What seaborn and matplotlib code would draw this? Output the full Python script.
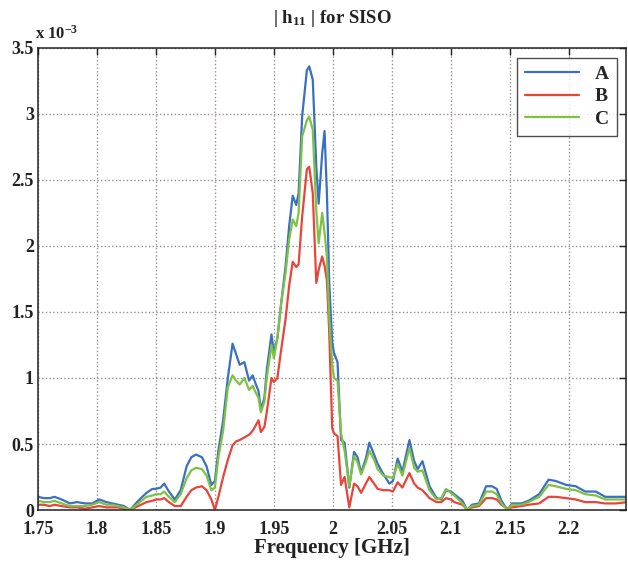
"""
|h11| magnitude vs frequency for SISO (three configurations)
"""
import matplotlib
matplotlib.use('Agg')
import matplotlib.pyplot as plt
import pandas as pd
import seaborn as sns

sns.set_style('white')
plt.rcParams['font.family'] = ['Liberation Serif', 'DejaVu Serif']
plt.rcParams['font.weight'] = 'bold'
plt.rcParams['mathtext.fontset'] = 'custom'
plt.rcParams['mathtext.rm'] = 'Liberation Serif:bold'
plt.rcParams['mathtext.it'] = 'Liberation Serif:bold'
plt.rcParams['mathtext.bf'] = 'Liberation Serif:bold'
plt.rcParams['mathtext.default'] = 'bf'

# frequency points (GHz) and |h11| values (x 1e-3)
freq = [1.750, 1.755, 1.760, 1.764, 1.770, 1.777, 1.783, 1.790, 1.796, 1.802,
        1.808, 1.813, 1.818, 1.823, 1.828, 1.835, 1.842, 1.847, 1.850, 1.854,
        1.857, 1.861, 1.866, 1.871, 1.876, 1.880, 1.884, 1.889, 1.893, 1.897,
        1.900, 1.903, 1.907, 1.911, 1.915, 1.918, 1.921, 1.925, 1.929, 1.932,
        1.934, 1.937, 1.939, 1.942, 1.944, 1.948, 1.950, 1.953, 1.956, 1.960,
        1.963, 1.966, 1.969, 1.971, 1.974, 1.978, 1.980, 1.983, 1.986, 1.988,
        1.991, 1.993, 1.995, 1.997, 1.9995, 2.001, 2.004, 2.007, 2.010, 2.014,
        2.018, 2.021, 2.024, 2.028, 2.031, 2.035, 2.038, 2.043, 2.048, 2.051,
        2.055, 2.059, 2.065, 2.069, 2.072, 2.076, 2.082, 2.088, 2.092, 2.096,
        2.100, 2.103, 2.110, 2.114, 2.118, 2.124, 2.130, 2.135, 2.139, 2.143,
        2.148, 2.152, 2.160, 2.166, 2.175, 2.183, 2.189, 2.198, 2.206, 2.214,
        2.223, 2.231, 2.240, 2.250]

mag_a = [0.10, 0.09, 0.09, 0.10, 0.08, 0.05, 0.06, 0.05, 0.05, 0.08,
         0.06, 0.05, 0.04, 0.03, 0.00, 0.07, 0.13, 0.16, 0.16, 0.17,
         0.20, 0.14, 0.08, 0.15, 0.33, 0.40, 0.42, 0.40, 0.33, 0.19,
         0.22, 0.45, 0.68, 1.00, 1.26, 1.18, 1.10, 1.12, 0.98, 1.02,
         0.97, 0.90, 0.76, 0.85, 1.06, 1.33, 1.19, 1.30, 1.55, 1.85,
         2.15, 2.38, 2.31, 2.40, 2.98, 3.33, 3.36, 3.26, 2.60, 2.32,
         2.70, 2.87, 2.40, 1.72, 1.27, 1.19, 1.12, 0.53, 0.51, 0.17,
         0.44, 0.40, 0.28, 0.39, 0.51, 0.42, 0.35, 0.27, 0.20, 0.22,
         0.39, 0.29, 0.53, 0.37, 0.31, 0.37, 0.18, 0.09, 0.08, 0.15,
         0.14, 0.12, 0.07, 0.00, 0.04, 0.05, 0.18, 0.18, 0.16, 0.07,
         0.00, 0.05, 0.05, 0.07, 0.12, 0.23, 0.22, 0.19, 0.18, 0.14,
         0.14, 0.10, 0.10, 0.10]

mag_b = [0.04, 0.04, 0.03, 0.04, 0.03, 0.02, 0.02, 0.01, 0.02, 0.03,
         0.02, 0.02, 0.02, 0.01, 0.00, 0.03, 0.06, 0.07, 0.08, 0.08,
         0.09, 0.06, 0.03, 0.03, 0.10, 0.15, 0.17, 0.18, 0.15, 0.08,
         0.00, 0.10, 0.25, 0.38, 0.49, 0.52, 0.53, 0.55, 0.57, 0.60,
         0.63, 0.68, 0.59, 0.63, 0.74, 1.00, 0.97, 1.00, 1.20, 1.45,
         1.70, 1.88, 1.84, 1.86, 2.22, 2.58, 2.60, 2.40, 1.72, 1.82,
         1.92, 1.85, 1.74, 1.34, 0.62, 0.58, 0.56, 0.19, 0.25, 0.02,
         0.20, 0.18, 0.13, 0.20, 0.25, 0.20, 0.16, 0.15, 0.15, 0.14,
         0.21, 0.17, 0.28, 0.20, 0.17, 0.15, 0.09, 0.06, 0.06, 0.09,
         0.08, 0.06, 0.04, 0.00, 0.02, 0.03, 0.09, 0.09, 0.08, 0.04,
         0.01, 0.02, 0.03, 0.04, 0.05, 0.10, 0.10, 0.09, 0.08, 0.06,
         0.06, 0.05, 0.05, 0.06]

mag_c = [0.07, 0.06, 0.06, 0.07, 0.05, 0.03, 0.03, 0.03, 0.04, 0.06,
         0.04, 0.04, 0.03, 0.02, 0.00, 0.05, 0.10, 0.11, 0.12, 0.12,
         0.14, 0.10, 0.06, 0.12, 0.24, 0.30, 0.32, 0.31, 0.26, 0.15,
         0.17, 0.40, 0.60, 0.93, 1.02, 0.98, 0.95, 1.00, 0.91, 0.94,
         0.90, 0.85, 0.74, 0.82, 1.00, 1.25, 1.15, 1.30, 1.55, 1.80,
         2.05, 2.20, 2.15, 2.25, 2.83, 2.95, 2.98, 2.88, 2.27, 2.02,
         2.25, 2.10, 1.92, 1.46, 1.10, 1.00, 0.98, 0.58, 0.45, 0.18,
         0.41, 0.36, 0.27, 0.36, 0.45, 0.38, 0.31, 0.26, 0.25, 0.24,
         0.35, 0.26, 0.47, 0.32, 0.29, 0.30, 0.15, 0.08, 0.09, 0.16,
         0.13, 0.11, 0.05, 0.00, 0.03, 0.04, 0.14, 0.14, 0.12, 0.05,
         0.00, 0.04, 0.04, 0.06, 0.10, 0.19, 0.18, 0.16, 0.15, 0.12,
         0.11, 0.08, 0.08, 0.08]

x_ticks = [1.75, 1.8, 1.85, 1.9, 1.95, 2.0, 2.05, 2.1, 2.15, 2.2]
x_ticklabels = ['1.75', '1.8', '1.85', '1.9', '1.95', '2', '2.05', '2.1', '2.15', '2.2']
y_ticks = [0, 0.5, 1, 1.5, 2, 2.5, 3, 3.5]
y_ticklabels = ['0', '0.5', '1', '1.5', '2', '2.5', '3', '3.5']

df = pd.DataFrame({'freq': freq, 'A': mag_a, 'B': mag_b, 'C': mag_c})
long_df = df.melt(id_vars='freq', var_name='config', value_name='mag')
palette = {'A': '#3b6fc2', 'B': '#e8443a', 'C': '#7dc243'}

fig = plt.figure(figsize=(6.28, 5.65), dpi=100)
ax = fig.add_axes([0.0605, 0.0973, 0.937, 0.818])

sns.lineplot(data=long_df, x='freq', y='mag', hue='config', palette=palette,
             linewidth=1.6, ax=ax)

ax.set_xlim(1.75, 2.249)
ax.set_ylim(0, 3.5)
ax.set_xticks(x_ticks)
ax.set_xticklabels(x_ticklabels)
ax.set_yticks(y_ticks)
ax.set_yticklabels(y_ticklabels)
ax.tick_params(direction='in', length=5, width=1, top=True, right=True,
               labelsize=13, colors='#222222')
ax.tick_params(axis='x', pad=8)
ax.tick_params(axis='y', pad=3)
ax.grid(True, linestyle=':', color='#9a8f8f', linewidth=1)
for sp in ax.spines.values():
    sp.set_color('#222222')
    sp.set_linewidth(1.1)

ax.set_xlabel('Frequency [GHz]', fontsize=15, fontweight='bold', labelpad=0, color='#222222')
ax.set_ylabel('')
ax.set_title('| h$_{11}$ | for SISO', fontsize=13.5, fontweight='bold', pad=18, color='#222222')
ax.text(-0.005, 1.012, 'x 10$^{-3}$', transform=ax.transAxes, fontsize=12,
        fontweight='bold', ha='left', va='bottom', color='#222222')

leg = ax.legend(loc='upper right', fontsize=14, frameon=True, fancybox=False,
                edgecolor='#222222', handlelength=2.8, borderaxespad=0.5,
                title=None, labelspacing=0.25)
leg.get_frame().set_linewidth(1)

fig.savefig('out.png', dpi=100)
plt.close(fig)
